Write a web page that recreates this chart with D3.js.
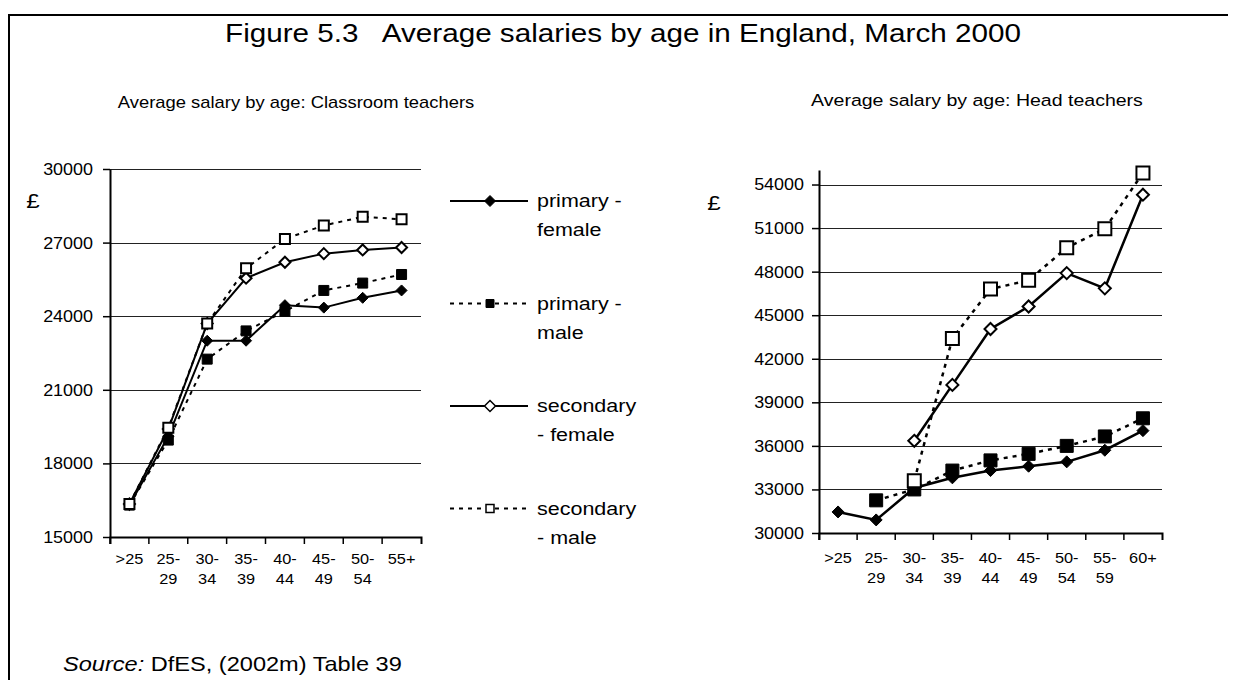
<!DOCTYPE html>
<html>
<head>
<meta charset="utf-8">
<script src="https://cdn.jsdelivr.net/npm/d3@7/dist/d3.min.js"></script>
<style>
  body { margin: 0; background: #fff; }
  svg { display: block; font-family: "Liberation Sans", Arial, sans-serif; }
</style>
</head>
<body>
<div id="chart"></div>
<script>
// age bands
var classAges = [">25", "25-29", "30-34", "35-39", "40-44", "45-49", "50-54", "55+"];
var headAges = [">25", "25-29", "30-34", "35-39", "40-44", "45-49", "50-54", "55-59", "60+"];

// classroom teachers, £
var classPrimaryF = [16300, 19100, 23000, 23000, 24450, 24350, 24750, 25050];
var classPrimaryM = [16300, 18950, 22250, 23400, 24200, 25050, 25350, 25700];
var classSecondaryF = [16350, 19400, 23700, 25550, 26200, 26550, 26700, 26800];
var classSecondaryM = [16350, 19450, 23700, 25950, 27150, 27700, 28050, 27950];

// head teachers, £
var headPrimaryF = [31450, 30900, 33100, 33800, 34300, 34600, 34900, 35700, 37050];
var headPrimaryM = [null, 32250, 33000, 34300, 35000, 35450, 36000, 36650, 37900];
var headSecondaryF = [null, null, 36350, 40200, 44050, 45600, 47900, 46850, 53300];
var headSecondaryM = [null, null, 33600, 43400, 46800, 47400, 49650, 50950, 54800];

// axis ticks
var classTicks = [15000, 18000, 21000, 24000, 27000, 30000];
var headTicks = [30000, 33000, 36000, 39000, 42000, 45000, 48000, 51000, 54000];

// legend text, two lines each
var legendLabels = [["primary -", "female"], ["primary -", "male"], ["secondary", "- female"], ["secondary", "- male"]];

// how each series looks: shape, filled?, dashed?
var looks = [
  {shape: "diamond", fill: "#000", dash: null},
  {shape: "square", fill: "#000", dash: "4,5"},
  {shape: "diamond", fill: "#fff", dash: null},
  {shape: "square", fill: "#fff", dash: "4,5"}
];

var W = 1237, H = 680;
var sx = 1.15; // the source picture is stretched sideways

var svg = d3.select("#chart").append("svg")
  .attr("width", W)
  .attr("height", H);

// frame
svg.append("path")
  .attr("d", "M9,680V15H1228")
  .attr("fill", "none")
  .attr("stroke", "#000")
  .attr("stroke-width", 2);

// stretched text helper
function label(g, x, y, str, size, anchor) {
  return g.append("text")
    .attr("transform", "translate(" + x + "," + y + ") scale(" + sx + ",1)")
    .attr("text-anchor", anchor || "start")
    .attr("font-size", size)
    .attr("fill", "#000")
    .style("white-space", "pre")
    .text(str);
}

label(svg, 623, 42, "Figure 5.3   Average salaries by age in England, March 2000", 25.8, "middle");
label(svg, 296, 108, "Average salary by age: Classroom teachers", 16, "middle");
label(svg, 977, 106, "Average salary by age: Head teachers", 17, "middle");
label(svg, 33, 208, "£", 21, "middle");
label(svg, 714, 210, "£", 21, "middle");

var src = svg.append("text")
  .attr("transform", "translate(63,671) scale(" + sx + ",1)")
  .attr("font-size", 20.5)
  .style("white-space", "pre");
src.append("tspan").attr("font-style", "italic").text("Source:");
src.append("tspan").text(" DfES, (2002m) Table 39");

function markPath(shape, r) {
  if (shape === "diamond") return "M0," + (-r) + "L" + r + ",0L0," + r + "L" + (-r) + ",0Z";
  return "M" + (-r) + "," + (-r) + "H" + r + "V" + r + "H" + (-r) + "Z";
}

function panel(cfg) {
  var g = svg.append("g");
  var x = d3.scaleBand().domain(cfg.ages).range([cfg.left, cfg.right]);
  var y = d3.scaleLinear().domain(cfg.domain).range([cfg.bottom, cfg.top]);
  var bw = x.bandwidth();

  // gridlines
  g.selectAll(".grid")
    .data(cfg.ticks.slice(1))
    .enter().append("line")
      .attr("class", "grid")
      .attr("x1", cfg.left)
      .attr("x2", cfg.right)
      .attr("y1", function(d) { return Math.round(y(d)) + 0.5; })
      .attr("y2", function(d) { return Math.round(y(d)) + 0.5; })
      .attr("stroke", "#222")
      .attr("stroke-width", 1);

  // y axis
  var ya = g.append("g")
    .attr("transform", "translate(" + cfg.left + ",0)")
    .call(d3.axisLeft(y).tickValues(cfg.ticks).tickSize(7).tickSizeOuter(0).tickFormat(d3.format("d")));
  ya.select(".domain").attr("stroke-width", 2);
  ya.selectAll(".tick line").attr("stroke-width", 1.5);
  ya.selectAll(".tick text")
    .attr("x", 0)
    .attr("dy", "0.35em")
    .attr("transform", "translate(" + (-cfg.labelGap) + ",0) scale(" + sx + ",1)")
    .attr("font-size", 15.6)
    .attr("font-family", null)
    .attr("fill", "#000");

  // x axis, ticks between the bands
  var xa = g.append("g")
    .attr("transform", "translate(0," + cfg.bottom + ")")
    .call(d3.axisBottom(x).tickSizeInner(7).tickSizeOuter(7));
  xa.select(".domain").attr("stroke-width", 2);
  xa.selectAll(".tick line")
    .attr("stroke-width", 1.5)
    .attr("transform", "translate(" + (-bw / 2) + ",0)");
  xa.selectAll(".tick text")
    .attr("y", 0)
    .attr("dy", null)
    .attr("font-size", 14.2)
    .attr("font-family", null)
    .attr("fill", "#000")
    .attr("transform", "translate(0," + cfg.labelDrop + ") scale(" + sx + ",1)")
    .text(null)
    .each(function(d) {
      var cut = d.indexOf("-");
      var parts = (cut > 0 && cut < d.length - 1) ? [d.slice(0, cut + 1), d.slice(cut + 1)] : [d];
      var t = d3.select(this);
      parts.forEach(function(p, i) {
        t.append("tspan").attr("x", 0).attr("y", i * 20).text(p);
      });
    });

  var line = d3.line()
    .defined(function(d) { return d != null; })
    .x(function(d, i) { return x(cfg.ages[i]) + bw / 2; })
    .y(function(d) { return y(d); });

  cfg.series.forEach(function(vals, s) {
    g.append("path")
      .attr("d", line(vals))
      .attr("fill", "none")
      .attr("stroke", "#000")
      .attr("stroke-width", cfg.lineW)
      .attr("stroke-dasharray", looks[s].dash);
  });

  cfg.series.forEach(function(vals, s) {
    var pts = vals.map(function(v, i) { return {v: v, age: cfg.ages[i]}; })
      .filter(function(p) { return p.v != null; });
    g.selectAll(".m" + s)
      .data(pts)
      .enter().append("path")
        .attr("class", "m" + s)
        .attr("transform", function(p) { return "translate(" + (x(p.age) + bw / 2) + "," + y(p.v) + ")"; })
        .attr("d", markPath(looks[s].shape, looks[s].shape === "diamond" ? cfg.dia : cfg.sq))
        .attr("fill", looks[s].fill)
        .attr("stroke", "#000")
        .attr("stroke-width", looks[s].fill === "#fff" ? 2 : 1);
  });
}

panel({
  ages: classAges,
  series: [classPrimaryF, classPrimaryM, classSecondaryF, classSecondaryM],
  ticks: classTicks,
  domain: [15000, 30000],
  left: 110, right: 421, top: 169, bottom: 537,
  labelGap: 17, labelDrop: 27,
  lineW: 2, dia: 5.5, sq: 5
});

panel({
  ages: headAges,
  series: [headPrimaryF, headPrimaryM, headSecondaryF, headSecondaryM],
  ticks: headTicks,
  domain: [30000, 55000],
  left: 819, right: 1162, top: 170, bottom: 533,
  labelGap: 15, labelDrop: 30,
  lineW: 2.5, dia: 6, sq: 6.5
});

// legend
var leg = svg.append("g");
var legItem = leg.selectAll(".leg")
  .data(legendLabels)
  .enter().append("g")
    .attr("class", "leg")
    .attr("transform", function(d, i) { return "translate(0," + (201 + i * 102.5) + ")"; });

legItem.append("line")
  .attr("x1", 450).attr("x2", 528)
  .attr("stroke", "#000")
  .attr("stroke-width", 2)
  .attr("stroke-dasharray", function(d, i) { return looks[i].dash; });

legItem.append("path")
  .attr("transform", "translate(490,0)")
  .attr("d", function(d, i) { return looks[i].shape === "diamond" ? markPath("diamond", 5.5) : markPath("square", 4); })
  .attr("fill", function(d, i) { return looks[i].fill; })
  .attr("stroke", "#000")
  .attr("stroke-width", function(d, i) { return looks[i].fill === "#fff" ? 1.5 : 1; });

legItem.each(function(d) {
  var it = d3.select(this);
  d.forEach(function(t, j) {
    label(it, 537, 6 + j * 29, t, 18.7, "start");
  });
});
</script>
</body>
</html>
